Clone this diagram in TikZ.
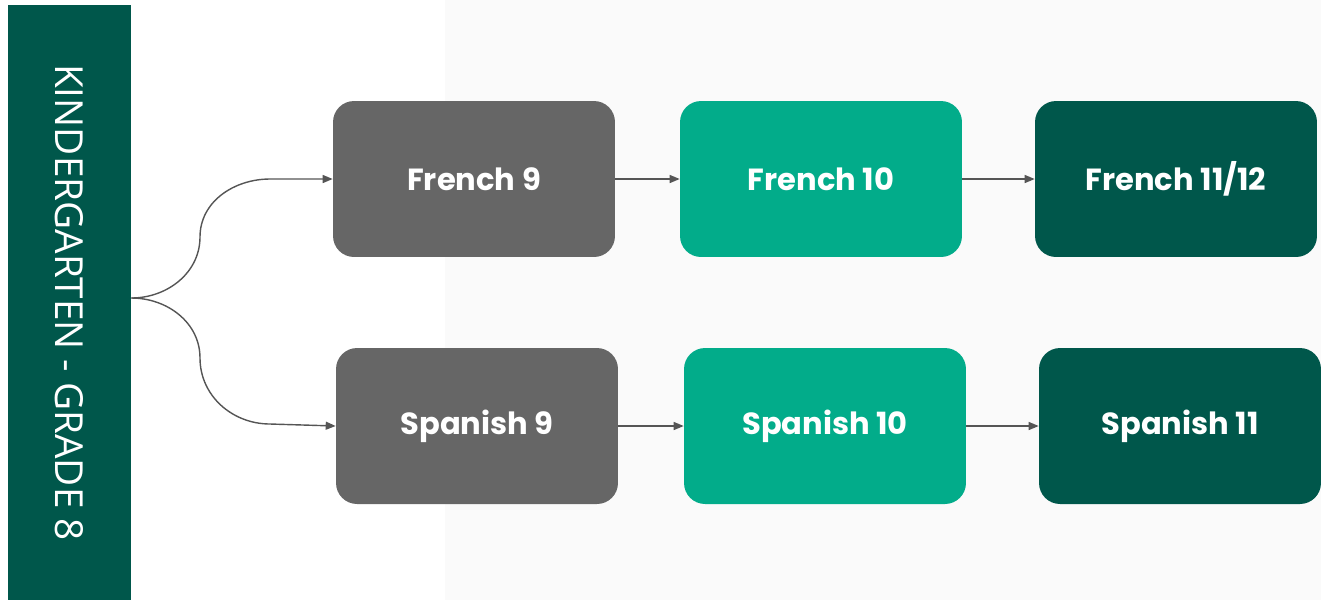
\documentclass[tikz,border=0pt]{standalone}
\usepackage{fontspec}
\setmainfont{Poppins}
\newfontfamily\sidefont{Open Sans}
\usetikzlibrary{arrows.meta}
\definecolor{coregray}{HTML}{666666}
\definecolor{midteal}{HTML}{02AC8A}
\definecolor{deepgreen}{HTML}{00574B}
\definecolor{linkgray}{HTML}{555555}
\definecolor{markgray}{HTML}{FAFAFA}

\begin{document}
\begin{tikzpicture}[
	x = 0.02cm, y = -0.02cm,
	course/.style={rounded corners=0.42cm, minimum width=5.64cm, minimum height=3.12cm, inner sep=0pt, text=white, font=\fontsize{17.4}{20}\selectfont\bfseries},
	intro/.style={course, fill=coregray},
	middle/.style={course, fill=midteal},
	senior/.style={course, fill=deepgreen},
	sidebar/.style={fill=deepgreen, rotate=-90, minimum width=11.9cm, minimum height=2.46cm, inner sep=0pt, text=white, font=\sidefont\fontsize{22}{24}\selectfont},
	link/.style={linkgray, line width=0.8pt, -{Triangle[length=0.2cm, width=0.16cm]}},
	]
	
	\useasboundingbox (0,0) rectangle (1321,600);
	\fill[markgray] (445,0) rectangle (1321,600);
	\node (grades) [sidebar] at (69.5,302.5) {KINDERGARTEN - GRADE 8};
	\node (fr9) [intro] at (474,179) {French 9};
	\node (fr10) [middle] at (821,179) {French 10};
	\node (fr11) [senior] at (1176,179) {French 11/12};
	\node (sp9) [intro] at (477,426) {Spanish 9};
	\node (sp10) [middle] at (825,426) {Spanish 10};
	\node (sp11) [senior] at (1180,426) {Spanish 11};
	\coordinate (fork) at (grades.north |- 0,298);
	\coordinate (midfr) at (200,237);
	\coordinate (midsp) at (200,358);
	\coordinate (bendfr) at (270,179);
	\coordinate (bendsp) at (270,424);
	\draw[link] (fork) to[out=0,in=-90] (midfr) to[out=90,in=180] (bendfr) -- (fr9.west);
	\draw[link] (fork) to[out=0,in=90] (midsp) to[out=-90,in=180] (bendsp) -- (sp9.west);
	\draw[link] (fr9) -- (fr10);
	\draw[link] (fr10) -- (fr11);
	\draw[link] (sp9) -- (sp10);
	\draw[link] (sp10) -- (sp11);
\end{tikzpicture}
\end{document}
